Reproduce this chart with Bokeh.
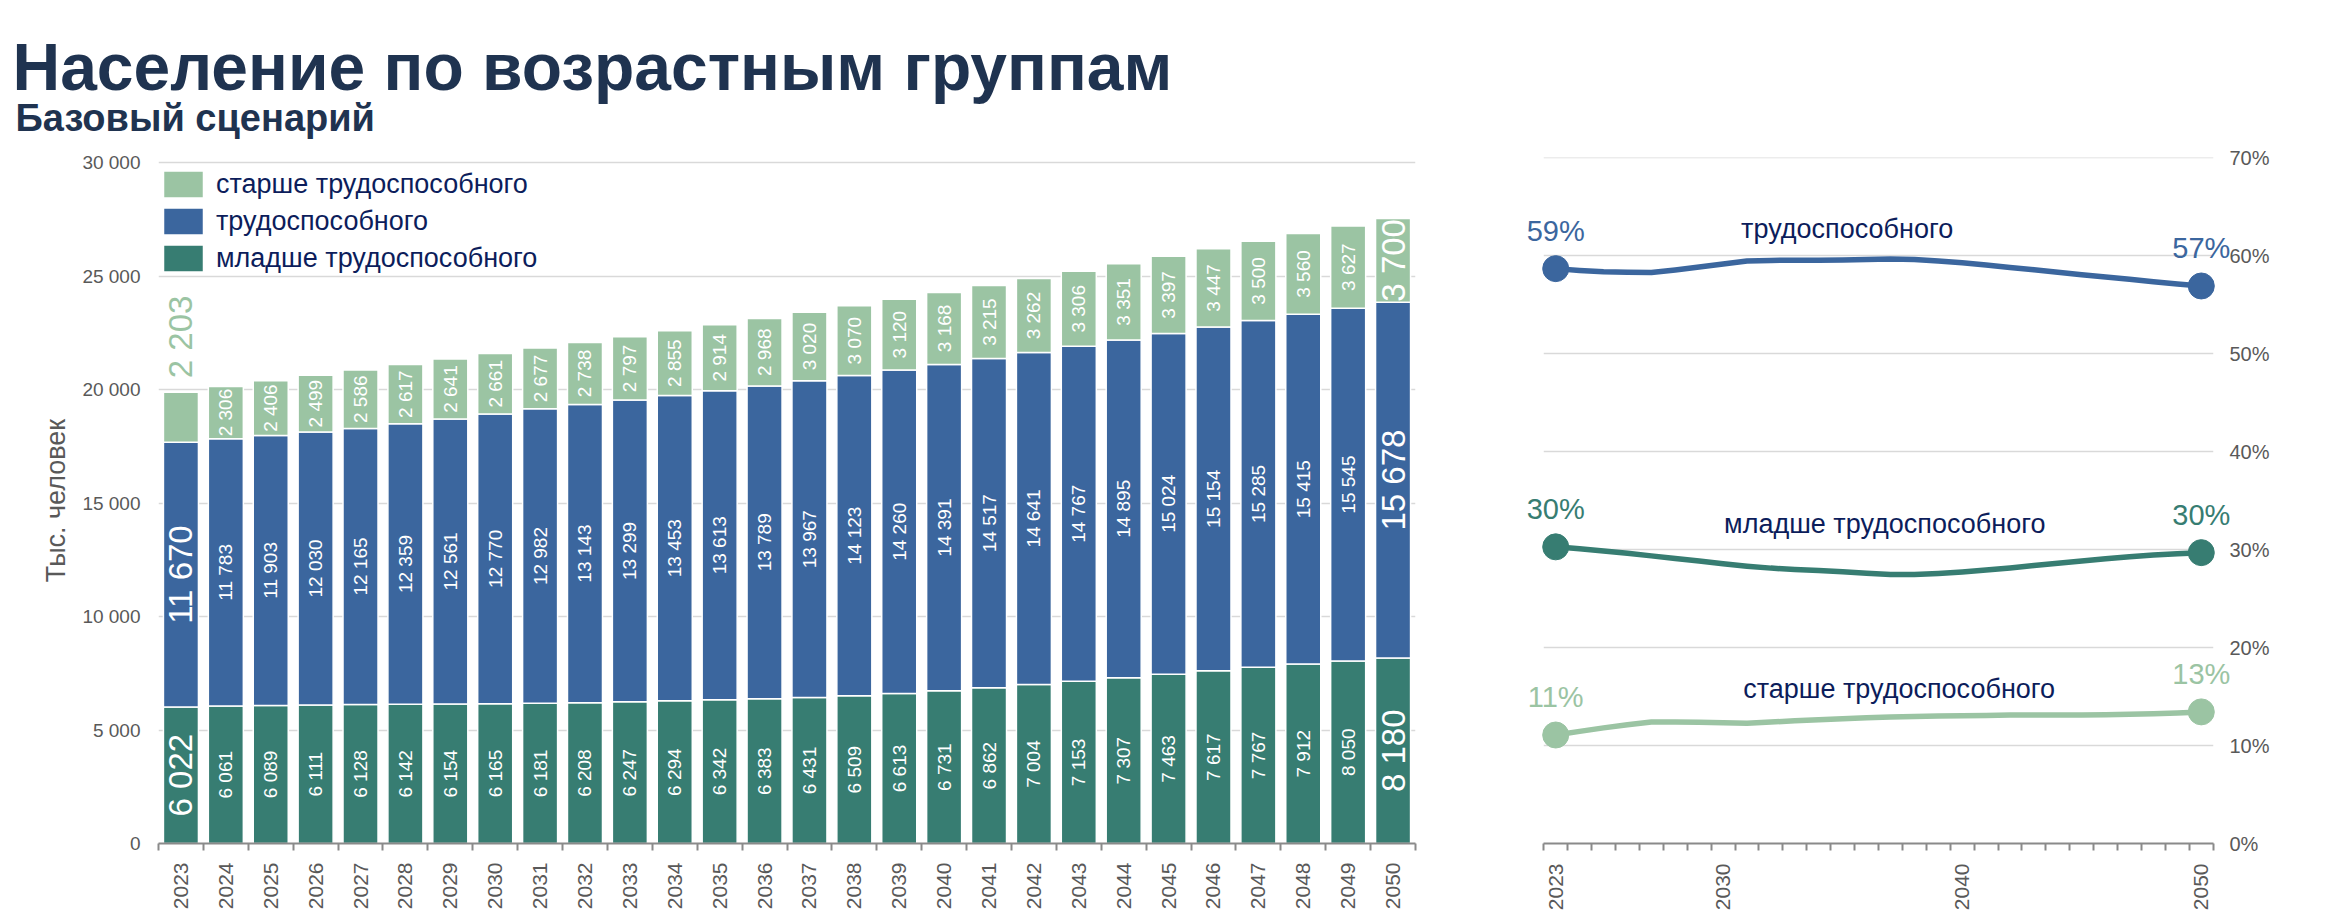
import math
from bokeh.plotting import figure
from bokeh.layouts import column, row
from bokeh.models import ColumnDataSource, FixedTicker, Legend, LegendItem, Range1d, Label
from bokeh.core.properties import value
from bokeh.embed import file_html
from bokeh.resources import INLINE

# ---------------- data ----------------
years = [2023, 2024, 2025, 2026, 2027, 2028, 2029, 2030, 2031, 2032, 2033, 2034, 2035, 2036,
         2037, 2038, 2039, 2040, 2041, 2042, 2043, 2044, 2045, 2046, 2047, 2048, 2049, 2050]

young = [6022, 6061, 6089, 6111, 6128, 6142, 6154, 6165, 6181, 6208, 6247, 6294, 6342, 6383,
         6431, 6509, 6613, 6731, 6862, 7004, 7153, 7307, 7463, 7617, 7767, 7912, 8050, 8180]
working = [11670, 11783, 11903, 12030, 12165, 12359, 12561, 12770, 12982, 13143, 13299, 13453, 13613, 13789,
           13967, 14123, 14260, 14391, 14517, 14641, 14767, 14895, 15024, 15154, 15285, 15415, 15545, 15678]
older = [2203, 2306, 2406, 2499, 2586, 2617, 2641, 2661, 2677, 2738, 2797, 2855, 2914, 2968,
         3020, 3070, 3120, 3168, 3215, 3262, 3306, 3351, 3397, 3447, 3500, 3560, 3627, 3700]

# shares, %
share_working = [58.66, 58.48, 58.35, 58.28, 58.26, 58.52, 58.82, 59.13, 59.44, 59.50, 59.52, 59.52, 59.53, 59.59,
                 59.64, 59.59, 59.43, 59.25, 59.03, 58.78, 58.54, 58.29, 58.04, 57.80, 57.57, 57.33, 57.10, 56.89]
share_young = [30.27, 30.08, 29.85, 29.61, 29.35, 29.08, 28.82, 28.55, 28.30, 28.10, 27.96, 27.85, 27.73, 27.58,
               27.46, 27.46, 27.56, 27.71, 27.90, 28.12, 28.36, 28.60, 28.83, 29.05, 29.25, 29.43, 29.57, 29.68]
share_older = [11.07, 11.44, 11.80, 12.11, 12.39, 12.39, 12.37, 12.32, 12.26, 12.40, 12.52, 12.63, 12.74, 12.83,
               12.90, 12.95, 13.00, 13.04, 13.07, 13.10, 13.11, 13.11, 13.12, 13.15, 13.18, 13.24, 13.32, 13.43]

names = ["младше трудоспособного", "трудоспособного", "старше трудоспособного"]

y_ticks = [0, 5000, 10000, 15000, 20000, 25000, 30000]
y_tick_labels = ["0", "5 000", "10 000", "15 000", "20 000", "25 000", "30 000"]
pct_ticks = [0, 10, 20, 30, 40, 50, 60, 70]
pct_tick_labels = ["0%", "10%", "20%", "30%", "40%", "50%", "60%", "70%"]
line_year_ticks = [2023, 2030, 2040, 2050]

title_text = "Население по возрастным группам"
subtitle_text = "Базовый сценарий"
y_axis_title = "Тыс. человек"

# ---------------- style ----------------
FONT = "Liberation Sans"
C_Y = "#377d72"
C_W = "#3b669e"
C_O = "#9bc4a3"
NAVY = "#0c1d5b"
TITLE_C = "#1f3350"
GRAY_T = "#595959"
GRID_C = "#d9d9d9"
AXIS_C = "#8a8a8a"


def fmt(v):
    return f"{v:,}".replace(",", " ")


# ---------------- title figure ----------------
TW, TH = 2332, 145
pt = figure(width=TW, height=TH, x_range=Range1d(0, TW), y_range=Range1d(TH, 0),
            x_axis_type=None, y_axis_type=None, output_backend="svg", toolbar_location=None,
            min_border=0)
pt.grid.visible = False
pt.outline_line_color = None
pt.text(x=[12], y=[66], text=[title_text], text_font=value(FONT), text_font_size="66px",
        text_font_style="bold", text_color=TITLE_C, text_baseline="middle", text_align="left")
pt.text(x=[15], y=[117], text=[subtitle_text], text_font=value(FONT), text_font_size="38px",
        text_font_style="bold", text_color=TITLE_C, text_baseline="middle", text_align="left")

# ---------------- shared frame geometry ----------------
H = 924 - TH
B_TOP, B_BOT = 12, 81

# ---------------- left: stacked bars ----------------
x_lo = years[0] - 0.5
x_hi = years[-1] + 0.5
boundaries = [y - 0.5 for y in years] + [years[-1] + 0.5]

p1 = figure(width=1480, height=H, x_range=Range1d(x_lo, x_hi), y_range=Range1d(0, 30242),
            output_backend="svg", toolbar_location=None,
            min_border_left=158, min_border_right=65, min_border_top=B_TOP, min_border_bottom=B_BOT)
p1.outline_line_color = None
p1.xgrid.grid_line_color = None
p1.ygrid.ticker = FixedTicker(ticks=y_ticks)
p1.ygrid.grid_line_color = GRID_C
p1.ygrid.grid_line_width = 1.5

src = ColumnDataSource(dict(year=years, young=young, working=working, older=older))
rs = p1.vbar_stack(["young", "working", "older"], x="year", width=0.78, source=src,
                   fill_color=[C_Y, C_W, C_O], line_color="white", line_width=1.5)

# value labels inside the segments
lx, ly, lt, lfs = [], [], [], []
n = len(years)
for i in range(n):
    big = i == 0 or i == n - 1
    fs = "33px" if big else "19px"
    base = 0
    for j, v in enumerate([young[i], working[i], older[i]]):
        mid = base + v / 2
        base += v
        if i == 0 and j == 2:
            continue
        lx.append(years[i]); ly.append(mid); lt.append(fmt(v)); lfs.append(fs)
lab_src = ColumnDataSource(dict(x=lx, y=ly, t=lt, fs=lfs))
p1.text(x="x", y="y", text="t", source=lab_src, angle=math.pi / 2, text_align="center",
        text_baseline="middle", text_color="white", text_font=value(FONT), text_font_size="fs")

# first "older" label above the bar
top0 = young[0] + working[0] + older[0]
p1.text(x=[years[0]], y=[top0], text=[fmt(older[0])], angle=math.pi / 2, text_align="left",
        text_baseline="middle", y_offset=-14, text_color=C_O, text_font=value(FONT),
        text_font_size="33px")

# axes
p1.xaxis.ticker = FixedTicker(ticks=years, minor_ticks=boundaries)
p1.xaxis.major_label_orientation = math.pi / 2
p1.xaxis.major_label_text_font = FONT
p1.xaxis.major_label_text_font_size = "21px"
p1.xaxis.major_label_text_color = GRAY_T
p1.xaxis.major_label_standoff = 12
p1.xaxis.major_tick_line_color = None
p1.xaxis.major_tick_out = 0
p1.xaxis.major_tick_in = 0
p1.xaxis.minor_tick_line_color = AXIS_C
p1.xaxis.minor_tick_line_width = 2
p1.xaxis.minor_tick_out = 7
p1.xaxis.minor_tick_in = 0
p1.xaxis.axis_line_color = AXIS_C
p1.xaxis.axis_line_width = 2

p1.yaxis.ticker = FixedTicker(ticks=y_ticks)
p1.yaxis.major_label_overrides = dict(zip(y_ticks, y_tick_labels))
p1.yaxis.major_label_text_font = FONT
p1.yaxis.major_label_text_font_size = "19px"
p1.yaxis.major_label_text_color = GRAY_T
p1.yaxis.major_label_standoff = 18
p1.yaxis.major_tick_line_color = None
p1.yaxis.major_tick_out = 0
p1.yaxis.minor_tick_line_color = None
p1.yaxis.axis_line_color = None
p1.yaxis.axis_label = y_axis_title
p1.yaxis.axis_label_text_font = FONT
p1.yaxis.axis_label_text_font_size = "27px"
p1.yaxis.axis_label_text_font_style = "normal"
p1.yaxis.axis_label_text_color = GRAY_T
p1.yaxis.axis_label_standoff = 8

legend = Legend(items=[LegendItem(label=names[2], renderers=[rs[2]]),
                       LegendItem(label=names[1], renderers=[rs[1]]),
                       LegendItem(label=names[0], renderers=[rs[0]])],
                location=(0, 568))
legend.label_text_font = FONT
legend.label_text_font_size = "27px"
legend.label_text_color = NAVY
legend.glyph_width = 50
legend.glyph_height = 34
legend.label_height = 27
legend.label_standoff = 8
legend.spacing = 3
legend.padding = 0
legend.margin = 0
legend.border_line_color = None
legend.background_fill_alpha = 0
p1.add_layout(legend)

# ---------------- right: shares ----------------
pad = 0.847  # room (in years) so the end labels are not cut by the frame
p2 = figure(width=852, height=H, x_range=Range1d(x_lo - pad, x_hi + pad), y_range=Range1d(0, 70),
            y_axis_location="right", output_backend="svg", toolbar_location=None,
            min_border_left=43, min_border_right=99, min_border_top=B_TOP, min_border_bottom=B_BOT)
p2.outline_line_color = None
p2.xgrid.grid_line_color = None
p2.ygrid.grid_line_color = None
gt = pct_ticks[1:]
p2.segment(x0=[x_lo] * len(gt), y0=gt, x1=[x_hi] * len(gt), y1=gt,
           line_color=GRID_C, line_width=1.5, level="underlay")

series = [(share_working, C_W), (share_young, C_Y), (share_older, C_O)]
for s, c in series:
    p2.line(years, s, line_width=5.5, line_color=c, line_join="round", line_cap="round")
    p2.scatter([years[0], years[-1]], [s[0], s[-1]], size=26, fill_color=c, line_color=c)
    for xv, yv in ((years[0], s[0]), (years[-1], s[-1])):
        p2.add_layout(Label(x=xv, y=yv, text=f"{round(yv)}%", y_offset=38,
                            text_align="center", text_baseline="middle", text_color=c,
                            text_font=FONT, text_font_size="29px"))

# series names placed near the lines
k35 = years.index(2035)
k37 = years.index(2037)
p2.text([years[k35]], [share_working[k35]], text=[names[1]], x_offset=4.5, y_offset=-31.5,
        text_align="center", text_baseline="middle", text_color=NAVY,
        text_font=value(FONT), text_font_size="27px")
p2.text([years[k37]], [share_young[k37]], text=[names[0]], x_offset=-5.7, y_offset=-50,
        text_align="center", text_baseline="middle", text_color=NAVY,
        text_font=value(FONT), text_font_size="27px")
p2.text([years[k37]], [share_older[k37]], text=[names[2]], x_offset=8.7, y_offset=-27.6,
        text_align="center", text_baseline="middle", text_color=NAVY,
        text_font=value(FONT), text_font_size="27px")

p2.xaxis.bounds = (x_lo, x_hi)
p2.xaxis.ticker = FixedTicker(ticks=line_year_ticks, minor_ticks=boundaries)
p2.xaxis.major_label_orientation = math.pi / 2
p2.xaxis.major_label_text_font = FONT
p2.xaxis.major_label_text_font_size = "21px"
p2.xaxis.major_label_text_color = GRAY_T
p2.xaxis.major_label_standoff = 13
p2.xaxis.major_tick_line_color = None
p2.xaxis.major_tick_out = 0
p2.xaxis.major_tick_in = 0
p2.xaxis.minor_tick_line_color = AXIS_C
p2.xaxis.minor_tick_line_width = 2
p2.xaxis.minor_tick_out = 7
p2.xaxis.minor_tick_in = 0
p2.xaxis.axis_line_color = AXIS_C
p2.xaxis.axis_line_width = 2

p2.yaxis.ticker = FixedTicker(ticks=pct_ticks)
p2.yaxis.major_label_overrides = dict(zip(pct_ticks, pct_tick_labels))
p2.yaxis.major_label_text_font = FONT
p2.yaxis.major_label_text_font_size = "20px"
p2.yaxis.major_label_text_color = GRAY_T
p2.yaxis.major_label_standoff = -4
p2.yaxis.major_tick_line_color = None
p2.yaxis.major_tick_out = 0
p2.yaxis.minor_tick_line_color = None
p2.yaxis.axis_line_color = None

layout = column(pt, row(p1, p2))
open("out.html", "w").write(file_html(layout, INLINE, "Население по возрастным группам"))
